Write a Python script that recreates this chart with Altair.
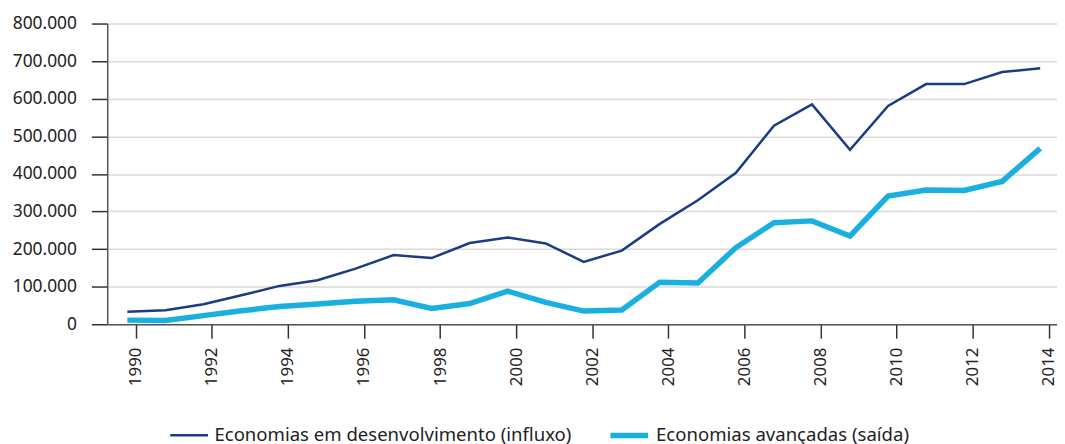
import altair as alt
import pandas as pd

years = list(range(1990, 2015))
dev = [33, 37, 53, 77, 102, 117, 148, 184, 176, 216, 231, 215, 166, 196,
       267, 330, 403, 528, 585, 464, 581, 639, 639, 671, 681]
adv = [11, 10, 23, 36, 47, 54, 61, 65, 42, 55, 88, 58, 35, 38,
       112, 110, 204, 270, 275, 235, 341, 357, 356, 380, 468]
series_names = ["Economias em desenvolvimento (influxo)", "Economias avançadas (saída)"]
colors = ["#1b3b82", "#19b0e0"]
widths = [2.5, 5.5]
x_ticks = list(range(1990, 2015, 2))
y_ticks = list(range(0, 800001, 100000))

rows = []
for name, vals in zip(series_names, [dev, adv]):
    for yr, v in zip(years, vals):
        rows.append({"ano": yr, "valor": v * 1000, "serie": name})
df = pd.DataFrame(rows)

FONT = "Noto Sans"

legend = alt.Legend(
    orient="none", legendX=62, legendY=393, direction="horizontal",
    symbolType="stroke", symbolSize=1444, labelOffset=5, columnPadding=28,
    labelFontSize=18.7, labelFont=FONT, labelColor="#222", title=None, labelLimit=0,
)

chart = alt.Chart(df).mark_line(xOffset=-8.5).encode(
    x=alt.X("ano:Q",
            scale=alt.Scale(domain=[1989.25, 2014.22], nice=False, zero=False),
            axis=alt.Axis(values=x_ticks, format="d", labelAngle=270, tickSize=14,
                          labelPadding=9, grid=False, domainColor="#555", domainWidth=1.5,
                          tickColor="#333", tickWidth=1.5, title=None, labelFontSize=17,
                          labelFont=FONT, labelColor="#222", labelFlush=False)),
    y=alt.Y("valor:Q",
            scale=alt.Scale(domain=[0, 800000], nice=False),
            axis=alt.Axis(values=y_ticks,
                          labelExpr="replace(format(datum.value, ','), ',', '.')",
                          tickSize=16, labelPadding=15, gridColor="#d9d9d9", gridWidth=1.5,
                          domainColor="#555", domainWidth=1.5, tickColor="#333", tickWidth=1.5,
                          title=None, labelFontSize=17.5, labelFont=FONT, labelColor="#222")),
    color=alt.Color("serie:N", scale=alt.Scale(domain=series_names, range=colors), legend=legend),
    strokeWidth=alt.StrokeWidth("serie:N", scale=alt.Scale(domain=series_names, range=widths),
                                legend=legend),
).properties(
    width=957, height=303,
    autosize=alt.AutoSizeParams(type="none"),
    padding={"left": 100, "top": 14, "right": 0, "bottom": 119},
    background="white",
).configure_view(stroke=None)

chart.save("out.html", embed_options={"renderer": "svg", "actions": False})
